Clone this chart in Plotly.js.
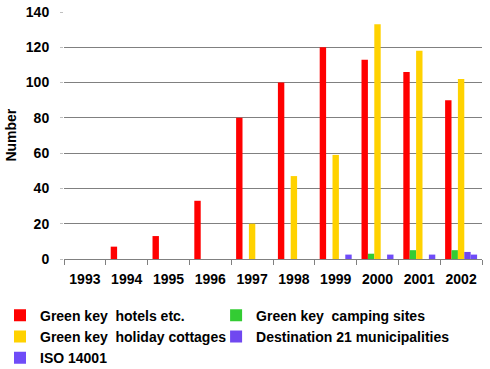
<!DOCTYPE html>
<html><head><meta charset="utf-8">
<script src="https://cdn.plot.ly/plotly-3.0.1.min.js"></script>
<style>html,body{margin:0;padding:0;background:#fff;}#chart{width:490px;height:369px;}</style>
</head><body><div id="chart"></div>
<script>
const years = ['1993','1994','1995','1996','1997','1998','1999','2000','2001','2002'];
const hotels =    [0, 7, 13, 33, 80, 100, 120, 113, 106, 90];
const camping =   [0, 0, 0, 0, 0, 0, 0, 3, 5, 5];
const cottages =  [0, 0, 0, 0, 20, 47, 59, 133, 118, 102];
const dest21 =    [0, 0, 0, 0, 0, 0, 0, 0, 0, 4];
const iso14001 =  [0, 0, 0, 0, 0, 0, 2.5, 2.5, 2.5, 2.5];
const seriesNames = ['Green key\u00a0 hotels etc.', 'Green key\u00a0 camping sites', 'Green key\u00a0 holiday cottages', 'Destination 21 municipalities', 'ISO 14001'];
const seriesColors = ['#ff0000', '#33cc33', '#ffd200', '#7048f0', '#6f4cf8'];
const seriesValues = [hotels, camping, cottages, dest21, iso14001];
const seriesLegend = ['legend', 'legend2', 'legend', 'legend2', 'legend'];
const yTitle = 'Number';

const FONT = 'Liberation Sans, Arial, sans-serif';
const traces = seriesValues.map((v, i) => ({
  type: 'bar', x: years, y: v, name: seriesNames[i], legend: seriesLegend[i],
  marker: {color: seriesColors[i], line: {width: 0}}
}));

const legendBase = {
  orientation: 'v', xref: 'container', yref: 'container',
  xanchor: 'left', y: 0.188, yanchor: 'top', traceorder: 'normal',
  font: {family: FONT, size: 14, weight: 'bold', color: '#000'},
  bgcolor: 'rgba(0,0,0,0)', itemwidth: 30, tracegroupgap: 0, borderwidth: 0
};

const layout = {
  width: 490, height: 369,
  margin: {l: 64, r: 8, t: 12, b: 110, autoexpand: false},
  paper_bgcolor: '#fff', plot_bgcolor: '#fff',
  barmode: 'group', bargap: 0.235, bargroupgap: 0,
  font: {family: FONT, size: 14, color: '#000', weight: 'bold'},
  xaxis: {
    type: 'category', tickson: 'boundaries', ticks: 'outside', ticklen: 5,
    tickcolor: '#808080', showline: true, linecolor: '#808080', linewidth: 1,
    showgrid: false, ticklabelstandoff: 7,
    tickfont: {family: FONT, size: 14, weight: 'bold', color: '#000'}
  },
  yaxis: {
    range: [0, 140], dtick: 20, showgrid: true, gridcolor: '#808080', gridwidth: 1,
    zeroline: false, showline: false, ticks: 'outside', ticklen: 3, tickcolor: '#c0c0c0',
    ticklabelstandoff: 8,
    tickfont: {family: FONT, size: 14, weight: 'bold', color: '#000'}
  },
  annotations: [{
    text: yTitle, xref: 'paper', yref: 'paper', x: -0.129, y: 0.5,
    xanchor: 'center', yanchor: 'middle', textangle: -90, showarrow: false,
    font: {family: FONT, size: 14, weight: 'bold', color: '#000'}
  }],
  showlegend: true,
  legend: Object.assign({}, legendBase, {x: 0}),
  legend2: Object.assign({}, legendBase, {x: 0.441})
};
Plotly.newPlot('chart', traces, layout, {displayModeBar: false, staticPlot: true});
</script></body></html>
